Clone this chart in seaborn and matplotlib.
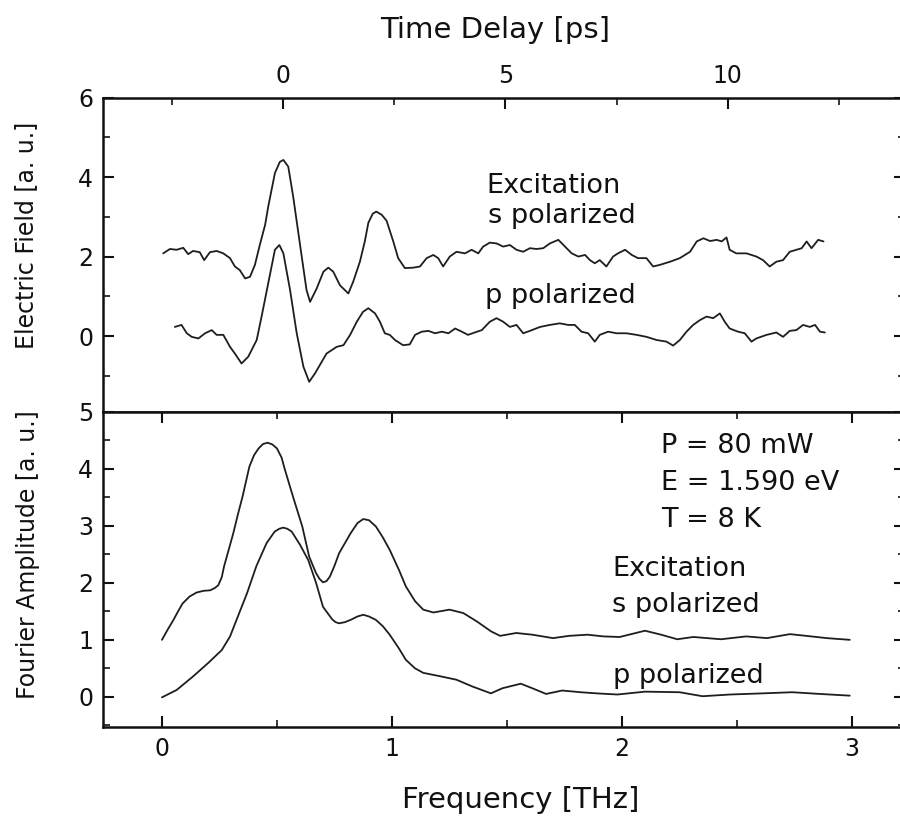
import matplotlib
matplotlib.use("Agg")
import matplotlib.pyplot as plt
from matplotlib.ticker import MultipleLocator
import seaborn as sns
import pandas as pd

# ---------------- data ----------------
# Time-domain traces (top panel): time delay [ps] and electric field [a.u.]
t_s = [-2.69, -2.54, -2.39, -2.24, -2.13, -2.02, -1.87, -1.77, -1.64, -1.49, -1.34, -1.19,
       -1.08, -0.97, -0.85, -0.74, -0.63, -0.52, -0.40, -0.33, -0.18, -0.07, 0.01, 0.12,
       0.23, 0.38, 0.53, 0.61, 0.76, 0.91, 1.02, 1.13, 1.28, 1.47, 1.58, 1.73, 1.84, 1.92,
       2.02, 2.10, 2.22, 2.33, 2.48, 2.59, 2.74, 2.93, 3.08, 3.23, 3.38, 3.49, 3.60, 3.75,
       3.90, 4.09, 4.24, 4.39, 4.50, 4.65, 4.80, 4.95, 5.10, 5.25, 5.40, 5.55, 5.70, 5.85,
       6.00, 6.19, 6.34, 6.49, 6.64, 6.79, 6.90, 7.01, 7.12, 7.27, 7.42, 7.53, 7.69, 7.84,
       7.98, 8.17, 8.32, 8.47, 8.70, 8.92, 9.15, 9.30, 9.45, 9.60, 9.75, 9.86, 9.97, 10.04,
       10.19, 10.42, 10.64, 10.79, 10.94, 11.09, 11.24, 11.39, 11.54, 11.66, 11.77, 11.88,
       12.03, 12.15]
e_s = [2.08, 2.19, 2.17, 2.22, 2.06, 2.14, 2.11, 1.91, 2.11, 2.14, 2.08, 1.96,
       1.75, 1.66, 1.45, 1.49, 1.79, 2.29, 2.80, 3.26, 4.10, 4.38, 4.43, 4.26,
       3.51, 2.33, 1.16, 0.86, 1.20, 1.62, 1.72, 1.62, 1.28, 1.07, 1.37, 1.87, 2.38, 2.85,
       3.08, 3.13, 3.05, 2.90, 2.38, 1.96, 1.71, 1.72, 1.75, 1.96, 2.04, 1.96, 1.75, 2.00,
       2.12, 2.08, 2.17, 2.08, 2.25, 2.35, 2.33, 2.25, 2.29, 2.17, 2.12, 2.21, 2.19, 2.21,
       2.33, 2.42, 2.25, 2.08, 2.00, 2.04, 1.91, 1.83, 1.91, 1.75, 2.00, 2.08, 2.17, 2.04,
       1.96, 1.96, 1.75, 1.79, 1.87, 1.96, 2.12, 2.38, 2.46, 2.39, 2.42, 2.38, 2.48, 2.17,
       2.08, 2.08, 2.00, 1.91, 1.75, 1.87, 1.91, 2.12, 2.17, 2.21, 2.38, 2.21,
       2.42, 2.38]

t_p = [-2.43, -2.28, -2.16, -2.05, -1.90, -1.75, -1.60, -1.49, -1.34, -1.19, -1.08, -0.93,
       -0.78, -0.59, -0.48, -0.33, -0.18, -0.08, 0.01, 0.16, 0.31, 0.46, 0.59, 0.72, 0.98,
       1.21, 1.36, 1.51, 1.66, 1.80, 1.92, 2.07, 2.18, 2.29, 2.40, 2.52, 2.70, 2.85, 2.97,
       3.12, 3.27, 3.42, 3.57, 3.72, 3.87, 4.02, 4.16, 4.31, 4.47, 4.65, 4.80, 4.95, 5.10,
       5.25, 5.40, 5.55, 5.78, 6.00, 6.22, 6.41, 6.56, 6.71, 6.86, 7.01, 7.12, 7.31, 7.50,
       7.72, 7.95, 8.17, 8.40, 8.62, 8.77, 8.92, 9.07, 9.22, 9.37, 9.52, 9.67, 9.82, 9.93,
       10.04, 10.23, 10.38, 10.53, 10.64, 10.87, 11.09, 11.24, 11.39, 11.54, 11.69, 11.84,
       11.96, 12.07, 12.18]
e_p = [0.23, 0.28, 0.07, -0.02, -0.06, 0.07, 0.15, 0.03, 0.03, -0.27, -0.44, -0.69,
       -0.52, -0.10, 0.49, 1.33, 2.17, 2.29, 2.08, 1.16, 0.07, -0.77, -1.15, -0.94, -0.44,
       -0.27, -0.23, 0.03, 0.36, 0.61, 0.70, 0.57, 0.36, 0.07, 0.03, -0.10, -0.23, -0.21, 0.03,
       0.11, 0.13, 0.07, 0.11, 0.07, 0.19, 0.11, 0.03, 0.09, 0.15, 0.36, 0.45, 0.36, 0.23,
       0.28, 0.07, 0.13, 0.23, 0.28, 0.32, 0.28, 0.28, 0.11, 0.07, -0.14, 0.03, 0.11, 0.07,
       0.07, 0.03, -0.02, -0.10, -0.14, -0.24, -0.10, 0.11, 0.28, 0.40, 0.49, 0.45, 0.57, 0.36,
       0.19, 0.11, 0.07, -0.14, -0.06, 0.03, 0.09, -0.02, 0.13, 0.15, 0.28, 0.23,
       0.28, 0.11, 0.09]

# Fourier spectra (bottom panel): frequency [THz] and amplitude [a.u.]
f_s = [0.00, 0.025, 0.05, 0.07, 0.09, 0.12, 0.15, 0.18, 0.21, 0.23, 0.245, 0.26, 0.27,
       0.29, 0.31, 0.33, 0.35, 0.38, 0.40, 0.42, 0.44, 0.46, 0.48, 0.50, 0.52, 0.535, 0.57,
       0.61, 0.64, 0.67, 0.685, 0.70, 0.715, 0.73, 0.75, 0.77, 0.82, 0.85, 0.875, 0.90,
       0.93, 0.96, 0.99, 1.03, 1.06, 1.10, 1.136, 1.18, 1.25, 1.31, 1.37, 1.43, 1.47,
       1.54, 1.61, 1.70, 1.77, 1.85, 1.92, 1.99, 2.10, 2.17, 2.24, 2.31, 2.43, 2.54,
       2.63, 2.73, 2.80, 2.89, 2.99]
a_s = [1.00, 1.18, 1.35, 1.50, 1.64, 1.76, 1.83, 1.86, 1.87, 1.91, 1.96, 2.10, 2.29,
       2.58, 2.87, 3.20, 3.51, 4.04, 4.24, 4.36, 4.44, 4.46, 4.43, 4.36, 4.20, 3.98, 3.51,
       2.99, 2.46, 2.17, 2.07, 2.01, 2.03, 2.11, 2.30, 2.52, 2.87, 3.05, 3.12, 3.10,
       2.99, 2.80, 2.58, 2.23, 1.94, 1.68, 1.53, 1.48, 1.53, 1.47, 1.32, 1.15, 1.07,
       1.12, 1.09, 1.03, 1.07, 1.09, 1.06, 1.05, 1.16, 1.09, 1.01, 1.05, 1.01, 1.06,
       1.03, 1.10, 1.07, 1.03, 1.00]

f_p = [0.00, 0.064, 0.136, 0.20, 0.26, 0.296, 0.33, 0.37, 0.41, 0.455, 0.49, 0.51,
       0.527, 0.545, 0.564, 0.60, 0.636, 0.67, 0.70, 0.74, 0.755, 0.77, 0.795, 0.82, 0.85,
       0.875, 0.90, 0.93, 0.96, 0.99, 1.03, 1.06, 1.10, 1.136, 1.21, 1.28, 1.35, 1.43,
       1.48, 1.56, 1.61, 1.67, 1.74, 1.82, 1.89, 1.98, 2.10, 2.25, 2.35, 2.47, 2.61,
       2.74, 2.86, 2.99]
a_p = [-0.01, 0.12, 0.36, 0.59, 0.82, 1.06, 1.41, 1.82, 2.29, 2.70, 2.90, 2.95,
       2.97, 2.95, 2.90, 2.67, 2.40, 2.00, 1.58, 1.36, 1.31, 1.29, 1.31, 1.35, 1.41,
       1.44, 1.41, 1.35, 1.24, 1.09, 0.85, 0.65, 0.50, 0.42, 0.36, 0.30, 0.18, 0.06,
       0.15, 0.23, 0.15, 0.05, 0.11, 0.08, 0.06, 0.04, 0.09, 0.08, 0.01, 0.04, 0.06,
       0.08, 0.05, 0.02]

top_xticks = [0, 5, 10]
top_yticks = [0, 2, 4, 6]
bot_xticks = [0, 1, 2, 3]
bot_yticks = [0, 1, 2, 3, 4, 5]

params_text = ["P = 80 mW", "E = 1.590 eV", "T = 8 K"]

# ---------------- style ----------------
sns.set_theme(style="ticks")
plt.rcParams["font.family"] = ["DejaVu Sans"]
plt.rcParams["axes.linewidth"] = 1.8
TXT = "#111111"
LINE = "#1e1e1e"

fig = plt.figure(figsize=(9, 8.16), dpi=100)
ax1 = fig.add_axes([0.1144, 0.4951, 0.8911, 0.3854])
ax2 = fig.add_axes([0.1144, 0.1091, 0.8911, 0.3860])

df_s = pd.DataFrame({"t": t_s, "E": e_s})
df_p = pd.DataFrame({"t": t_p, "E": e_p})
sns.lineplot(data=df_s, x="t", y="E", ax=ax1, color=LINE, lw=1.3, sort=False, estimator=None)
sns.lineplot(data=df_p, x="t", y="E", ax=ax1, color=LINE, lw=1.3, sort=False, estimator=None)

dfs_s = pd.DataFrame({"f": f_s, "A": a_s})
dfs_p = pd.DataFrame({"f": f_p, "A": a_p})
sns.lineplot(data=dfs_s, x="f", y="A", ax=ax2, color=LINE, lw=1.3, sort=False, estimator=None)
sns.lineplot(data=dfs_p, x="f", y="A", ax=ax2, color=LINE, lw=1.3, sort=False, estimator=None)

# ---- top axes ----
ax1.set_xlim(-4.045, 13.98)
ax1.set_ylim(-1.91, 6)
ax1.xaxis.tick_top()
ax1.xaxis.set_label_position("top")
ax1.set_xticks(top_xticks)
ax1.set_yticks(top_yticks)
ax1.xaxis.set_minor_locator(MultipleLocator(2.5))
ax1.yaxis.set_minor_locator(MultipleLocator(1))
ax1.tick_params(axis="x", which="both", top=True, bottom=False, labeltop=True,
                labelbottom=False, direction="in")
ax1.tick_params(axis="y", which="both", left=True, right=True, direction="in")
ax1.set_xlabel("Time Delay [ps]", fontsize=21, color=TXT)
ax1.set_ylabel("Electric Field [a. u.]", fontsize=17, color=TXT)
ax1.xaxis.set_label_coords(0.489, 1.19)
ax1.yaxis.set_label_coords(-0.081, 0.563)

ax1.text(4.58, 3.60, "Excitation", fontsize=19.5, color=TXT, ha="left", va="baseline")
ax1.text(4.60, 2.85, "s polarized", fontsize=19.5, color=TXT, ha="left", va="baseline")
ax1.text(4.54, 0.83, "p polarized", fontsize=19.5, color=TXT, ha="left", va="baseline")

# ---- bottom axes ----
ax2.set_xlim(-0.2565, 3.23)
ax2.set_ylim(-0.53, 5)
ax2.set_xticks(bot_xticks)
ax2.set_yticks(bot_yticks)
ax2.xaxis.set_minor_locator(MultipleLocator(0.5))
ax2.yaxis.set_minor_locator(MultipleLocator(0.5))
ax2.tick_params(axis="x", which="both", top=True, bottom=True, labelbottom=True,
                labeltop=False, direction="in")
ax2.tick_params(axis="y", which="both", left=True, right=True, direction="in")
ax2.set_xlabel("Frequency [THz]", fontsize=21, color=TXT)
ax2.set_ylabel("Fourier Amplitude [a. u.]", fontsize=17, color=TXT)
ax2.xaxis.set_label_coords(0.521, -0.187)
ax2.yaxis.set_label_coords(-0.079, 0.546)

for i, s in enumerate(params_text):
    ax2.text(2.17, [4.28, 3.63, 2.98][i], s, fontsize=19.5, color=TXT, ha="left", va="baseline")
ax2.text(1.957, 2.12, "Excitation", fontsize=19.5, color=TXT, ha="left", va="baseline")
ax2.text(1.957, 1.49, "s polarized", fontsize=19.5, color=TXT, ha="left", va="baseline")
ax2.text(1.96, 0.25, "p polarized", fontsize=19.5, color=TXT, ha="left", va="baseline")

for ax in (ax1, ax2):
    ax.tick_params(which="major", length=8, width=1.5, labelsize=17, pad=7, colors=TXT)
    ax.tick_params(which="minor", length=5, width=1.3)
    for name, sp in ax.spines.items():
        sp.set_visible(name != "right")
        sp.set_linewidth(1.8)
        sp.set_color("#111111")
    ax.set_facecolor("white")

fig.savefig("out.png", dpi=100, facecolor="white", bbox_inches=None)
